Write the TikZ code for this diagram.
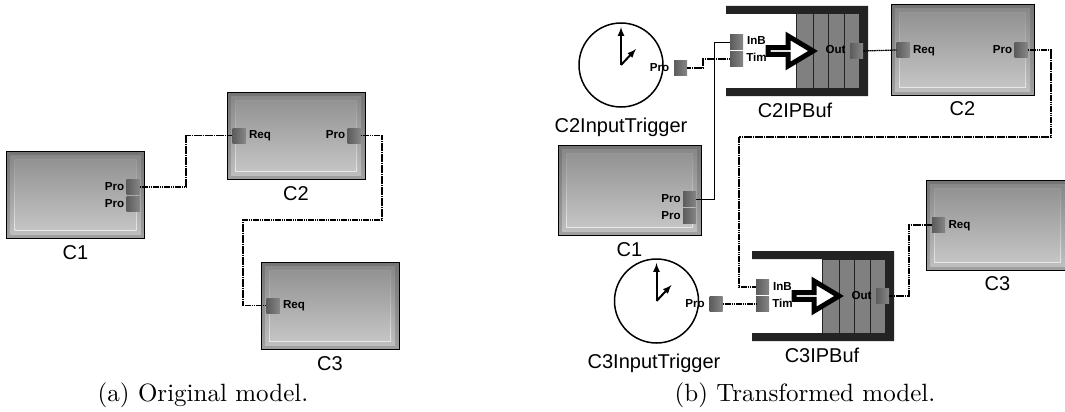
\documentclass[tikz,border=0pt]{standalone}
\usepackage{fontspec}
\usepackage{tikz}
\usetikzlibrary{shapes.arrows}
\newfontfamily\sansfont{Liberation Sans}

\definecolor{frametop}{HTML}{747474}
\definecolor{framebot}{HTML}{A0A0A0}
\definecolor{midtop}{HTML}{888888}
\definecolor{midbot}{HTML}{BEBEBE}
\definecolor{glowtop}{HTML}{979797}
\definecolor{glowbot}{HTML}{E8E8E8}
\definecolor{facetop}{HTML}{939393}
\definecolor{facebot}{HTML}{C4C4C4}
\definecolor{portdark}{HTML}{5C5C5C}
\definecolor{portlight}{HTML}{868686}
\definecolor{bufdark}{HTML}{232323}
\definecolor{bufgray}{HTML}{808080}

\begin{document}
\begin{tikzpicture}[x=1pt, y=-1pt, node distance=20pt]
        \tikzstyle{actor} = [draw=black, line width=1pt, inner sep=0pt, shade, top color=frametop, bottom color=framebot];
        \tikzstyle{bevel} = [inner sep=0pt, shade];
        \tikzstyle{port} = [inner sep=0pt, minimum width=13pt, minimum height=15pt, shade, left color=portdark, right color=portlight];
        \tikzstyle{portlabel} = [font=\sansfont\bfseries\fontsize{11.6}{12}\selectfont, inner sep=0pt, text height=8.5pt, text depth=2.5pt];
        \tikzstyle{boxtitle} = [font=\sansfont\fontsize{20}{22}\selectfont, inner sep=0pt];
        \tikzstyle{captext} = [scale=2.5, inner sep=0pt];
        \tikzstyle{wire} = [line width=1.2pt, dash pattern=on 1.7pt off 0.5pt];
        \tikzstyle{solidwire} = [line width=0.9pt];
        \tikzstyle{clock} = [circle, draw=black, line width=1.5pt, fill=white, minimum size=84pt, inner sep=0pt];
        \tikzstyle{hand} = [-latex, line width=2pt];
        \tikzstyle{bufbody} = [draw=bufdark, line width=1pt, fill=bufgray, minimum width=63pt, minimum height=74pt, inner sep=0pt];
        \tikzstyle{bufarrow} = [single arrow, draw=black, fill=white, line width=5pt, inner sep=0pt,
            minimum height=45pt, minimum width=30pt, single arrow head extend=9pt, single arrow tip angle=62];

        \clip (0,0) rectangle (1065,412);

        % the actors, framed and then with their face
        \foreach \boxname/\w/\h/\xc/\yc in {ac1/138/87/75.5/195, ac2/138/87/296/135.5, ac3/138/87/330/305.5,
                                             bc1/143/90/629.5/190, bc2/143/90/962.5/50, bc3/143/90/997.5/225} {
            \node [actor, minimum width=\w pt, minimum height=\h pt] (\boxname) at (\xc,\yc) {};
            \foreach \cut/\ctop/\cbot in {8/midtop/midbot, 16/glowtop/glowbot, 18/facetop/facebot} {
                \pgfmathsetmacro{\wf}{\w-\cut}
                \pgfmathsetmacro{\hf}{\h-\cut}
                \node [bevel, top color=\ctop, bottom color=\cbot, minimum width=\wf pt, minimum height=\hf pt] (\boxname b\cut) at (\xc,\yc) {};
            }
        }

        % (a)
        \node [port, right of=ac1, node distance=57.5pt, yshift=8pt] (ac1pro) {};
        \node [port, below of=ac1pro, node distance=17pt] (ac1prob) {};
        \node [portlabel, left of=ac1pro, node distance=18.5pt] (ac1prol) {Pro};
        \node [portlabel, left of=ac1prob, node distance=18.5pt] (ac1probl) {Pro};
        \node [port, left of=ac2, node distance=57pt] (ac2req) {};
        \node [portlabel, right of=ac2req, node distance=21pt] (ac2reql) {Req};
        \node [port, right of=ac2, node distance=58pt] (ac2pro) {};
        \node [portlabel, left of=ac2pro, node distance=18.5pt] (ac2prol) {Pro};
        \node [port, left of=ac3, node distance=57pt] (ac3req) {};
        \node [portlabel, right of=ac3req, node distance=21pt] (ac3reql) {Req};

        \node [boxtitle, below of=ac1, node distance=58pt] (ac1name) {C1};
        \node [boxtitle, below of=ac2, node distance=58pt] (ac2name) {C2};
        \node [boxtitle, below of=ac3, node distance=58pt] (ac3name) {C3};
        \node [captext] (acap) at (203,395) {(a) Original model.};

        \coordinate (abend) at (186,0);
        \coordinate (aright) at (382,220);
        \coordinate (aleft) at (243,220);
        \draw [wire] (ac1pro.east) -| (abend |- ac2req.west) -- (ac2req.west);
        \draw [wire] (ac2pro.east) -| (aright) -- (aleft) |- (ac3req.west);

        % (b)
        \foreach \trig/\dx/\dy in {c2/0/0, c3/35.5/236} {
            \begin{scope}[shift={(\dx,\dy)}]
                \node [clock] (\trig clock) at (621,65) {};
                \draw [hand] (\trig clock.center) -- +(0,-38);
                \draw [hand] (\trig clock.center) -- +(15,-16);
                \node [port, right of=\trig clock, node distance=59.5pt, yshift=-3pt] (\trig trigpro) {};
                \node [portlabel, left of=\trig trigpro, node distance=21pt] (\trig trigprol) {Pro};
            \end{scope}
        }

        \foreach \buf/\dx/\dy in {c2/0/0, c3/26/245} {
            \begin{scope}[shift={(\dx,\dy)}]
                \fill [bufdark] (726,6) -- (868,6) -- (868,96) -- (726,96) -- (726,88) -- (859,88) -- (859,14) -- (726,14) -- cycle;
                \node [bufbody] (\buf body) at (827.5,51) {};
                \foreach \s in {813, 828.5, 844} {
                    \draw [bufdark, line width=1pt] (\s,14) -- (\s,88);
                }
                \node [port] (\buf inb) at (736.5,42) {};
                \node [port, below of=\buf inb, node distance=17pt] (\buf tim) {};
                \node [port] (\buf out) at (856.5,51) {};
                \node [portlabel, right of=\buf inb, node distance=20pt] (\buf inbl) {InB};
                \node [portlabel, right of=\buf tim, node distance=20pt] (\buf timl) {Tim};
                \node [portlabel, left of=\buf out, node distance=21pt] (\buf outl) {Out};
                \node [bufarrow, anchor=west] (\buf arrow) at (765.5,51) {};
            \end{scope}
        }

        \node [port, right of=bc1, node distance=60pt, yshift=-9pt] (bc1pro) {};
        \node [port, below of=bc1pro, node distance=17pt] (bc1prob) {};
        \node [portlabel, left of=bc1pro, node distance=18.5pt] (bc1prol) {Pro};
        \node [portlabel, left of=bc1prob, node distance=18.5pt] (bc1probl) {Pro};
        \node [port, left of=bc2, node distance=59.5pt] (bc2req) {};
        \node [portlabel, right of=bc2req, node distance=21pt] (bc2reql) {Req};
        \node [port, right of=bc2, node distance=58.5pt] (bc2pro) {};
        \node [portlabel, left of=bc2pro, node distance=18.5pt] (bc2prol) {Pro};
        \node [port, left of=bc3, node distance=59pt] (bc3req) {};
        \node [portlabel, right of=bc3req, node distance=21pt] (bc3reql) {Req};

        \node [boxtitle, below of=bc1, node distance=60pt] (bc1name) {C1};
        \node [boxtitle, below of=bc2, node distance=59pt] (bc2name) {C2};
        \node [boxtitle, below of=bc3, node distance=59pt] (bc3name) {C3};
        \node [boxtitle] (c2trigname) at (621,127) {C2InputTrigger};
        \node [boxtitle] (c3trigname) at (654,363) {C3InputTrigger};
        \node [boxtitle] (c2bufname) at (795,110) {C2IPBuf};
        \node [boxtitle] (c3bufname) at (822,355) {C3IPBuf};
        \node [captext] (bcap) at (805,395) {(b) Transformed model.};

        \coordinate (bbus) at (714,0);
        \coordinate (bstep) at (703,0);
        \coordinate (blinkr) at (1051,137);
        \coordinate (blinkl) at (739,137);
        \coordinate (bout) at (909,0);
        \draw [solidwire] (bc1pro.east) -| (bbus |- c2inb.west) -- (c2inb.west);
        \draw [wire] (c2trigpro.east) -| (bstep |- c2tim.west) -- (c2tim.west);
        \draw [wire] (c2out.east) -- (bc2req.west);
        \draw [wire] (bc2pro.east) -| (blinkr) -- (blinkl) |- (c3inb.west);
        \draw [wire] (c3trigpro.east) -- (c3tim.west);
        \draw [wire] (c3out.east) -| (bout |- bc3req.west) -- (bc3req.west);
    \end{tikzpicture}
\end{document}
